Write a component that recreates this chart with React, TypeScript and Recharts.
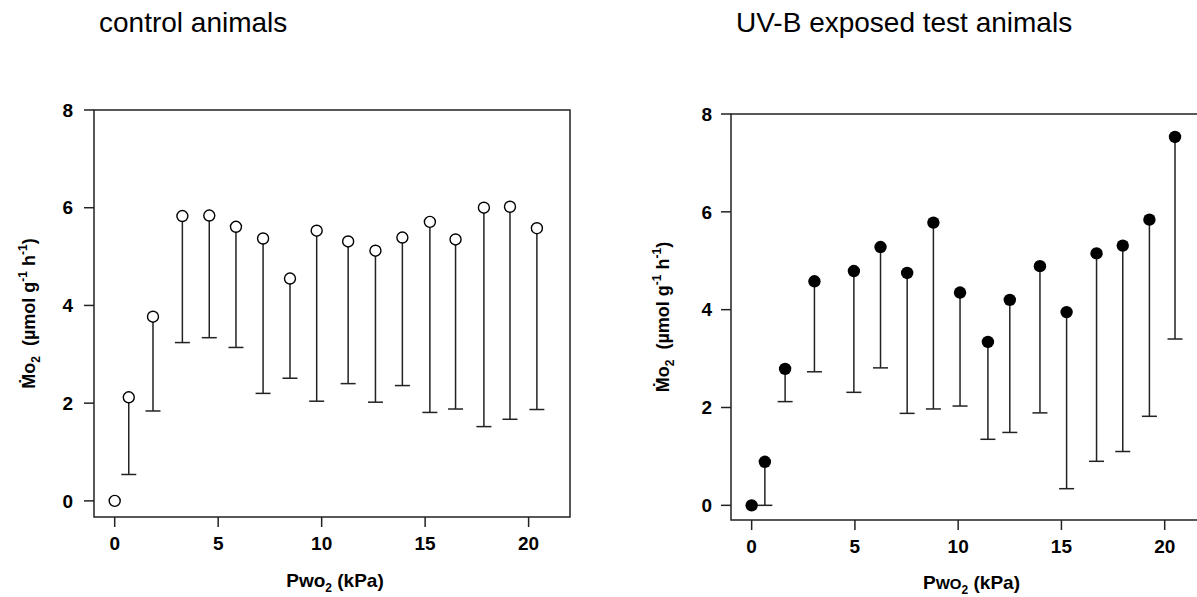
import React from 'react';
import { ScatterChart, Scatter, XAxis, YAxis, ErrorBar, ReferenceArea, Label } from 'recharts';

// Pwo2 (kPa), Mo2 and lower whisker end
const controlPwo2 = [0, 0.68, 1.85, 3.27, 4.57, 5.86, 7.17, 8.47, 9.76, 11.28, 12.6, 13.9, 15.23, 16.47, 17.84, 19.1, 20.4];
const controlMo2 = [0, 2.12, 3.77, 5.83, 5.84, 5.61, 5.37, 4.55, 5.53, 5.31, 5.12, 5.39, 5.71, 5.35, 6.0, 6.02, 5.58];
const controlLow = [0, 0.54, 1.84, 3.24, 3.34, 3.14, 2.2, 2.51, 2.04, 2.4, 2.02, 2.36, 1.81, 1.88, 1.52, 1.67, 1.87];

const uvbPwo2 = [0, 0.64, 1.62, 3.04, 4.95, 6.24, 7.53, 8.8, 10.09, 11.44, 12.5, 13.96, 15.25, 16.7, 17.97, 19.26, 20.5];
const uvbMo2 = [0, 0.89, 2.79, 4.58, 4.79, 5.28, 4.75, 5.78, 4.35, 3.34, 4.2, 4.89, 3.95, 5.15, 5.31, 5.84, 7.53];
const uvbLow = [0, 0, 2.12, 2.73, 2.31, 2.81, 1.88, 1.97, 2.03, 1.35, 1.49, 1.89, 0.34, 0.9, 1.1, 1.82, 3.4];

const xTicks = [0, 5, 10, 15, 20];
const yTicks = [0, 2, 4, 6, 8];

const FONT = '"Liberation Sans", Arial, sans-serif';
const INK = '#222';

type Row = { x: number; y: number; err: number[] };

const buildRows = (xs: number[], ys: number[], lows: number[]): Row[] =>
  xs.map((x, i) => ({ x, y: ys[i], err: [ys[i] - lows[i], 0] }));

const buildCaps = (xs: number[], ys: number[], lows: number[]) =>
  xs.map((x, i) => ({ x, y: lows[i], show: ys[i] > lows[i] })).filter((d) => d.show);

const Nothing = () => <g />;

const Cap = (props: any) => (
  <line x1={props.cx - 7.5} x2={props.cx + 7.5} y1={props.cy} y2={props.cy} stroke={INK} strokeWidth={1.5} />
);

const OpenDot = (props: any) => (
  <circle cx={props.cx} cy={props.cy} r={5.5} fill="#fff" stroke="#000" strokeWidth={1.4} />
);

const FilledDot = (props: any) => <circle cx={props.cx} cy={props.cy} r={6.2} fill="#000" />;

const yLabel = (offset: number) => (props: any) => {
  const { x, y, height } = props.viewBox;
  const cx = x + offset;
  const cy = y + height / 2;
  return (
    <text
      x={cx}
      y={cy}
      transform={`rotate(-90 ${cx} ${cy})`}
      textAnchor="middle"
      fontFamily={FONT}
      fontWeight="bold"
      fontSize={18}
      fill="#000"
    >
      <tspan>Ṁo</tspan>
      <tspan fontSize={12} dy={5}>2</tspan>
      <tspan dy={-5}>{'\u00a0\u00a0(µmol g'}</tspan>
      <tspan fontSize={12} dy={-8}>-1</tspan>
      <tspan dy={8}>{'\u00a0h'}</tspan>
      <tspan fontSize={12} dy={-8}>-1</tspan>
      <tspan dy={8}>)</tspan>
    </text>
  );
};

const xLabel = (drop: number, smallCaps: boolean) => (props: any) => {
  const { x, y, width } = props.viewBox;
  return (
    <text
      x={x + width / 2 + 3}
      y={y + drop}
      textAnchor="middle"
      fontFamily={FONT}
      fontWeight="bold"
      fontSize={19}
      fill="#000"
    >
      <tspan>P</tspan>
      {smallCaps ? <tspan fontSize={15}>WO</tspan> : <tspan>wo</tspan>}
      <tspan fontSize={12} dy={5}>2</tspan>
      <tspan dy={-5}>{'\u00a0(kPa)'}</tspan>
    </text>
  );
};

type PanelProps = {
  rows: Row[];
  caps: { x: number; y: number }[];
  filled: boolean;
  width: number;
  margin: { top: number; right: number; bottom: number; left: number };
  yAxisWidth: number;
  yMin: number;
  yLabelOffset: number;
  yTickMargin: number;
  xLabelDrop: number;
  smallCaps: boolean;
};

const Panel = (p: PanelProps) => {
  const tick = { fill: '#000', fontSize: 19, fontWeight: 'bold', fontFamily: FONT };
  const tickLine = { stroke: INK, strokeWidth: 1.5 };
  return (
    <ScatterChart width={p.width} height={597} margin={p.margin}>
      <XAxis
        type="number"
        dataKey="x"
        domain={[-1, 22]}
        ticks={xTicks}
        axisLine={false}
        tickLine={tickLine}
        tickSize={10}
        tickMargin={10}
        tick={tick}
        fontSize={19}
        fontWeight="bold"
        fontFamily={FONT}
        height={30}
      >
        <Label content={xLabel(p.xLabelDrop, p.smallCaps)} />
      </XAxis>
      <YAxis
        type="number"
        dataKey="y"
        domain={[p.yMin, 8]}
        ticks={yTicks}
        axisLine={false}
        tickLine={tickLine}
        tickSize={10}
        tickMargin={p.yTickMargin}
        tick={tick}
        fontSize={19}
        fontWeight="bold"
        fontFamily={FONT}
        width={p.yAxisWidth}
      >
        <Label content={yLabel(p.yLabelOffset)} />
      </YAxis>
      <ReferenceArea x1={-1} x2={22} y1={p.yMin} y2={8} fill="none" stroke={INK} strokeWidth={1.5} fillOpacity={0} />
      <Scatter data={p.rows} shape={Nothing} isAnimationActive={false}>
        <ErrorBar dataKey="err" direction="y" width={0} stroke={INK} strokeWidth={1.5} isAnimationActive={false} />
      </Scatter>
      <Scatter data={p.caps} shape={Cap} isAnimationActive={false} />
      <Scatter data={p.rows} shape={p.filled ? FilledDot : OpenDot} isAnimationActive={false} />
    </ScatterChart>
  );
};

export default function App() {
  const controlRows = buildRows(controlPwo2, controlMo2, controlLow);
  const controlCaps = buildCaps(controlPwo2, controlMo2, controlLow);
  const uvbRows = buildRows(uvbPwo2, uvbMo2, uvbLow);
  const uvbCaps = buildCaps(uvbPwo2, uvbMo2, uvbLow);

  return (
    <div
      style={{
        position: 'absolute',
        left: 0,
        top: 0,
        width: 1197,
        height: 597,
        overflow: 'hidden',
        background: '#fff',
      }}
    >
      <svg width={1197} height={60} style={{ position: 'absolute', left: 0, top: 0 }}>
        <text x={99} y={32} fontFamily={FONT} fontSize={28} fill="#000">
          control animals
        </text>
        <text x={736} y={32} fontFamily={FONT} fontSize={28} fill="#000">
          UV-B exposed test animals
        </text>
      </svg>
      <div style={{ position: 'absolute', left: 0, top: 0 }}>
        <Panel
          rows={controlRows}
          caps={controlCaps}
          filled={false}
          width={600}
          margin={{ top: 110, right: 30, bottom: 50, left: 0 }}
          yAxisWidth={94}
          yMin={-0.33}
          yLabelOffset={35}
          yTickMargin={11}
          xLabelDrop={70}
          smallCaps={false}
        />
      </div>
      <div style={{ position: 'absolute', left: 600, top: 0 }}>
        <Panel
          rows={uvbRows}
          caps={uvbCaps}
          filled={true}
          width={640}
          margin={{ top: 114, right: 34, bottom: 47, left: 0 }}
          yAxisWidth={131}
          yMin={-0.3}
          yLabelOffset={69}
          yTickMargin={9}
          xLabelDrop={69}
          smallCaps={true}
        />
      </div>
    </div>
  );
}
